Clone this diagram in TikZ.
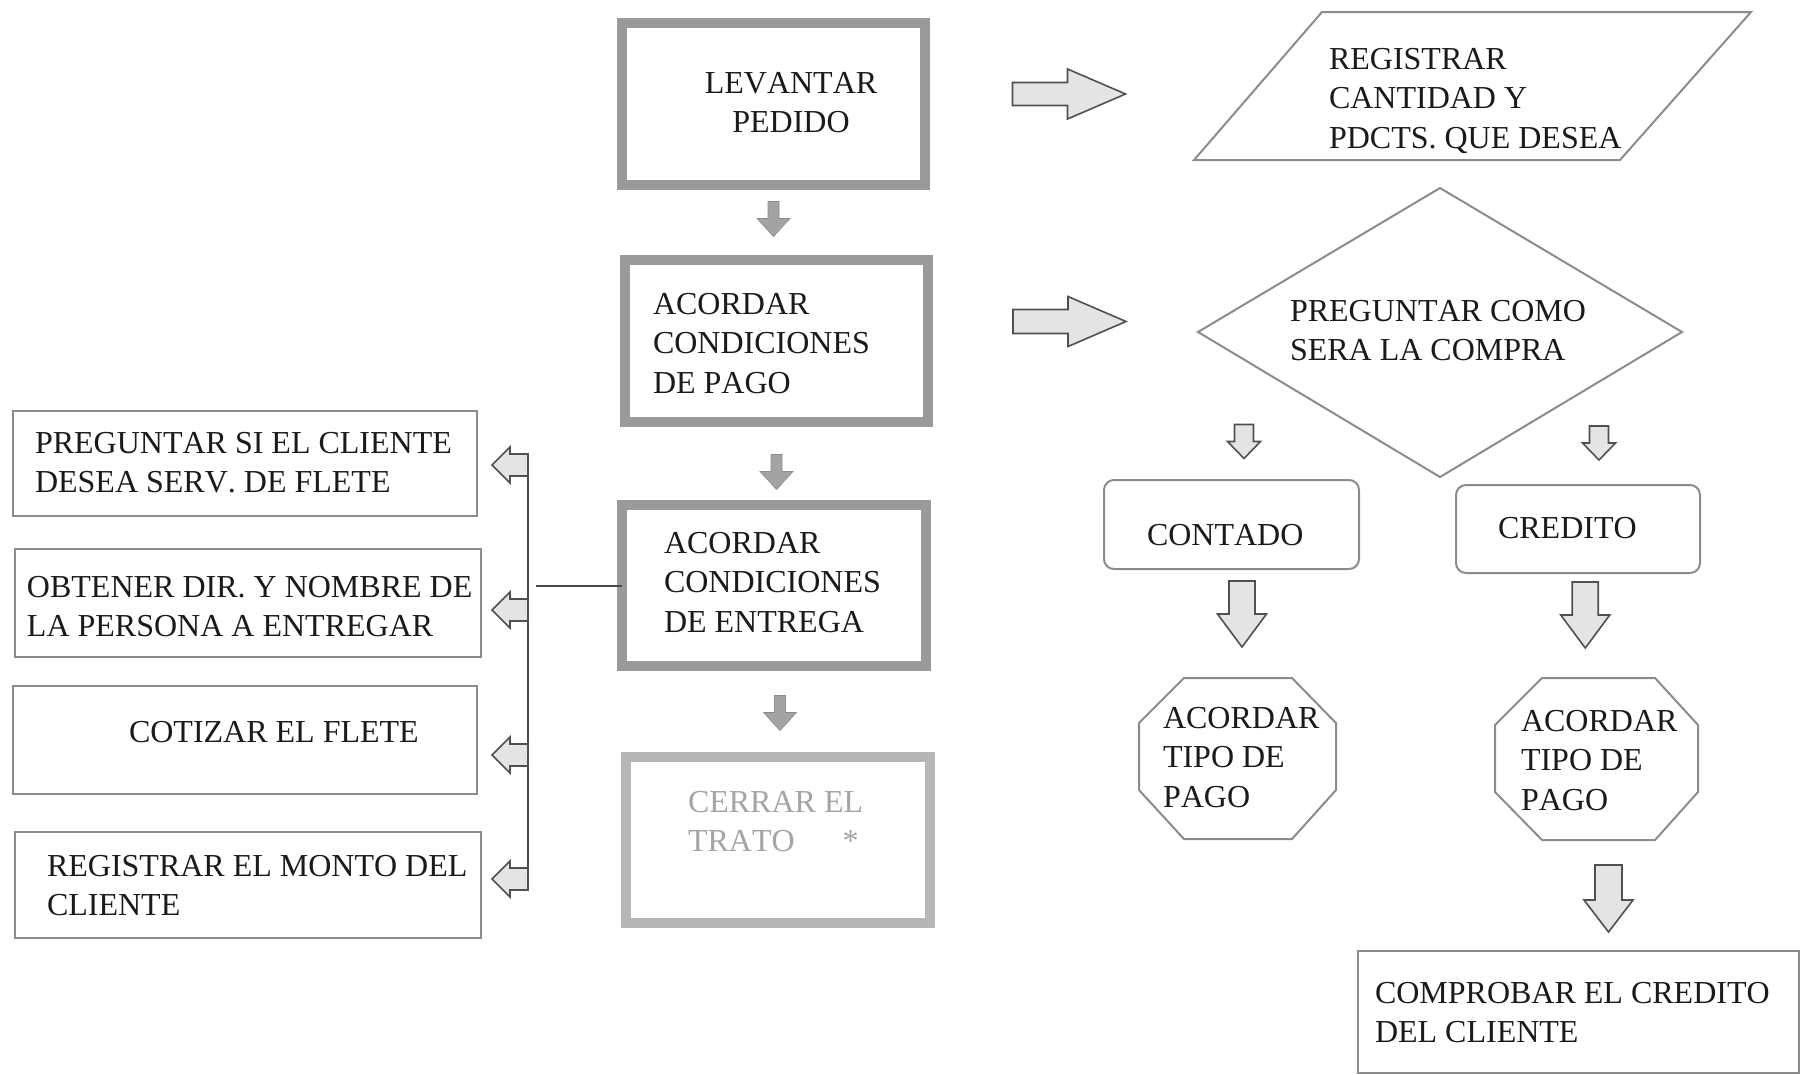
\documentclass[tikz,border=0pt]{standalone}
\usepackage{fontspec}
\setmainfont[Kerning=Off]{Liberation Serif}
\usetikzlibrary{calc}
\definecolor{ink}{HTML}{1A1A1A}
\definecolor{frame}{HTML}{9A9A9A}
\definecolor{paleframe}{HTML}{B6B6B6}
\definecolor{paletext}{HTML}{A4A4A4}
\definecolor{thinline}{HTML}{8C8C8C}
\definecolor{wire}{HTML}{4A4A4A}
\definecolor{arrowline}{HTML}{505050}
\definecolor{arrowfill}{HTML}{E4E4E4}
\definecolor{stepfill}{HTML}{A3A3A3}
\newcommand\lineset[1]{\begin{tabular}[t]{@{}l@{}}#1\end{tabular}}
\newcommand\centerset[1]{\begin{tabular}[t]{@{}c@{}}#1\end{tabular}}
\tikzset{
  % block arrow pointing down: {head width}{shaft width}{length}{head length}
  pics/blockdown/.style n args={4}{code={
    \path[pic actions] (-#2/2,-#3/2) -- (#2/2,-#3/2) -- (#2/2,#3/2-#4) -- (#1/2,#3/2-#4)
      -- (0,#3/2) -- (-#1/2,#3/2-#4) -- (-#2/2,#3/2-#4) -- cycle;}},
  % block arrow pointing right: {head height}{shaft height}{length}{head length}
  pics/blockright/.style n args={4}{code={
    \path[pic actions] (-#3/2,-#2/2) -- (#3/2-#4,-#2/2) -- (#3/2-#4,-#1/2) -- (#3/2,0)
      -- (#3/2-#4,#1/2) -- (#3/2-#4,#2/2) -- (-#3/2,#2/2) -- cycle;}},
  % block arrow pointing left
  pics/blockleft/.style n args={4}{code={
    \path[pic actions] (#3/2,-#2/2) -- (-#3/2+#4,-#2/2) -- (-#3/2+#4,-#1/2) -- (-#3/2,0)
      -- (-#3/2+#4,#1/2) -- (-#3/2+#4,#2/2) -- (#3/2,#2/2) -- cycle;}},
}
\begin{document}
\begin{tikzpicture}[x=1pt,y=-1pt,
  every node/.style={inner sep=0pt, outer sep=0pt},
  txt/.style={anchor=base west, text=ink, font=\fontsize{32}{39.5}\selectfont},
  heavybox/.style={draw=frame, line width=10pt, fill=white},
  palebox/.style={draw=paleframe, line width=10pt, fill=white},
  plainbox/.style={draw=thinline, line width=2pt, fill=white},
  softbox/.style={plainbox, rounded corners=10pt},
  outline/.style={draw=thinline, line width=2pt},
  openarrow/.style={draw=arrowline, line width=1.6pt, fill=arrowfill, line join=miter},
  steparrow/.style={fill=stepfill, draw=stepfill!85!black, line width=0.6pt},
  wireline/.style={draw=wire, line width=2pt}]

\useasboundingbox (0,0) rectangle (1804,1074);
\fill[white] (0,0) rectangle (1804,1074);

% ---------- main column ----------
\node[heavybox, minimum width=303, minimum height=162] (lev) at (773.5,104) {};
\node[heavybox, minimum width=303, minimum height=162] (pago) at (776.5,341) {};
\node[heavybox, minimum width=304, minimum height=161] (entrega) at (774,585.5) {};
\node[palebox, minimum width=304, minimum height=166] (cerrar) at (778,840) {};

\node[txt, anchor=base] (tlev) at (791,93) {\centerset{LEVANTAR\\PEDIDO}};
\node[txt] (tpago) at (653,314) {\lineset{ACORDAR\\CONDICIONES\\DE PAGO}};
\node[txt] (tentrega) at (664,553) {\lineset{ACORDAR\\CONDICIONES\\DE ENTREGA}};
\node[txt, text=paletext] (tcerrar) at (688,812) {\lineset{CERRAR EL\\TRATO\hspace{48pt}*}};

\pic[steparrow] at ($(lev.south)+(0,34)$) {blockdown={33}{11}{35}{18}};
\pic[steparrow] at ($(pago.south)+(0,50)$) {blockdown={33}{11}{35}{18}};
\pic[steparrow] at ($(entrega.south)+(6,47)$) {blockdown={33}{11}{35}{18}};

% ---------- delivery branch ----------
\node[plainbox, minimum width=464, minimum height=105] (flete) at (245,463.5) {};
\node[plainbox, minimum width=466, minimum height=108] (dir) at (248,603) {};
\node[plainbox, minimum width=464, minimum height=108] (cotiza) at (245,740) {};
\node[plainbox, minimum width=466, minimum height=106] (monto) at (248,885) {};

\node[txt] (tflete) at (35,453) {\lineset{PREGUNTAR SI EL CLIENTE\\DESEA SERV. DE FLETE}};
\node[txt] (tdir) at (27,597) {\lineset{OBTENER DIR. Y NOMBRE DE\\LA PERSONA A ENTREGAR}};
\node[txt] (tcotiza) at (129,742) {COTIZAR EL FLETE};
\node[txt] (tmonto) at (47,876) {\lineset{REGISTRAR EL MONTO DEL\\CLIENTE}};

\coordinate (bustop) at (528,465);
\coordinate (busbottom) at (528,887);
\coordinate (tap) at (536,586);
\draw[wireline] (bustop) -- (busbottom);
\draw[wireline] (tap) -- (tap -| entrega.west);

\pic[openarrow] at (510,465) {blockleft={36}{22}{36}{18}};
\pic[openarrow] at (510,610) {blockleft={36}{22}{36}{18}};
\pic[openarrow] at (510,755) {blockleft={36}{22}{36}{18}};
\pic[openarrow] at (510,879) {blockleft={36}{22}{36}{18}};

% ---------- order and payment branch ----------
\draw[outline] (1322,12) coordinate (regTL) -- (1751,12) -- (1620,160) -- (1194,160) coordinate (regBL) -- cycle;
\coordinate (reg) at ($(regTL)!0.5!(regBL)$);
\node[txt] (treg) at (1329,69) {\lineset{REGISTRAR\\CANTIDAD Y\\PDCTS. QUE DESEA}};

\draw[outline] (1440,188) coordinate (dtop) -- (1682,332) coordinate (dright)
  -- (1440,477) coordinate (dbottom) -- (1198,332) coordinate (dleft) -- cycle;
\node[txt] (tdiam) at (1290,321) {\lineset{PREGUNTAR COMO\\SERA LA COMPRA}};

\pic[openarrow] at ($(lev.east)!0.5!(reg)+(-22.5,-1)$) {blockright={50}{23}{113}{58}};
\pic[openarrow] at ($(pago.east)!0.5!(dleft)+(6.5,-15)$) {blockright={50}{24}{113}{58}};

\node[softbox, minimum width=255, minimum height=89] (contado) at (1231.5,524.5) {};
\node[softbox, minimum width=244, minimum height=88] (credito) at (1578,529) {};
\node[txt] (tcont) at (1147,545) {CONTADO};
\node[txt] (tcred) at (1498,538) {CREDITO};

\pic[openarrow] at ($(contado.north)+(12.5,-38.5)$) {blockdown={33}{19}{34}{17}};
\pic[openarrow] at ($(credito.north)+(21,-42)$) {blockdown={33}{19}{34}{17}};

\draw[outline] (1184,678) -- (1292,678) -- (1336,723) -- (1336,790) -- (1292,839)
  -- (1184,839) -- (1139,790) -- (1139,723) -- cycle;
\coordinate (octL) at (1237.5,678);
\draw[outline] (1542,678) -- (1655,678) -- (1698,725) -- (1698,792) -- (1655,840)
  -- (1542,840) -- (1495,792) -- (1495,725) -- cycle;
\coordinate (octR) at (1596.5,678);
\node[txt] (toctL) at (1163,728) {\lineset{ACORDAR\\TIPO DE\\PAGO}};
\node[txt] (toctR) at (1521,731) {\lineset{ACORDAR\\TIPO DE\\PAGO}};

\pic[openarrow] at ($(contado.south)!0.5!(octL)+(7.5,-9.5)$) {blockdown={49}{26}{66}{33}};
\pic[openarrow] at ($(credito.south)!0.5!(octR)+(-2,-10.5)$) {blockdown={49}{26}{66}{33}};

\node[plainbox, minimum width=441, minimum height=122] (comprobar) at (1578.5,1012) {};
\node[txt] (tcomp) at (1375,1003) {\lineset{COMPROBAR EL CREDITO\\DEL CLIENTE}};
\pic[openarrow] at ($(comprobar.north)+(30,-52.5)$) {blockdown={49}{27}{67}{32}};

\end{tikzpicture}
\end{document}
